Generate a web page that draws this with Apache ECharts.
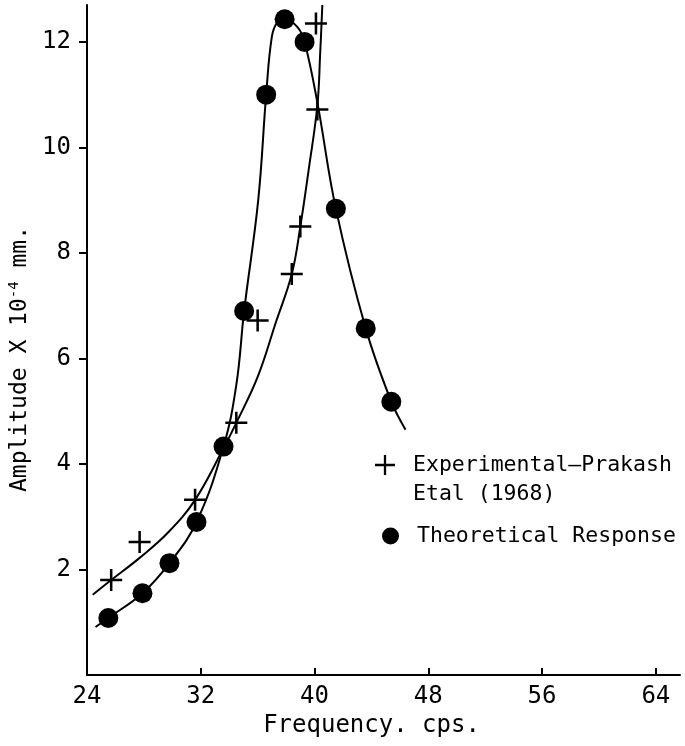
<!DOCTYPE html>
<html>
<head>
<meta charset="utf-8">
<script src="https://cdn.jsdelivr.net/npm/echarts@6/dist/echarts.min.js"></script>
<style>
  html, body { margin: 0; padding: 0; background: #fff; }
  #chart { width: 685px; height: 746px; }
</style>
</head>
<body>
<div id="chart"></div>
<script>
// measured points, + markers (Prakash et al 1968)
var expX = [25.7, 27.7, 31.6, 34.5, 36.0, 38.4, 39.0, 40.2, 40.1];
var expY = [1.80, 2.52, 3.32, 4.78, 6.72, 7.60, 8.50, 10.72, 12.35];
// theoretical response, filled dots
var theoX = [25.5, 27.9, 29.8, 31.7, 33.6, 35.05, 36.6, 37.9, 39.3, 41.5, 43.6, 45.4];
var theoY = [1.08, 1.55, 2.12, 2.90, 4.33, 6.90, 11.0, 12.43, 12.0, 8.84, 6.57, 5.18];
// hand drawn curves
var expFitX = [24.4, 25.7, 27.7, 29.7, 31.6, 33.6, 34.5, 36.0, 37.3, 38.4, 39.0, 39.6, 40.2, 40.4, 40.55];
var expFitY = [1.52, 1.80, 2.22, 2.70, 3.32, 4.30, 4.78, 5.65, 6.70, 7.60, 8.50, 9.60, 10.8, 11.8, 12.7];
var theoFitX = [24.6, 25.5, 27.9, 29.8, 31.7, 33.6, 34.5, 35.05, 36.04, 36.6, 37.0, 37.4, 37.9, 38.8, 39.3, 40.2, 41.5, 43.6, 45.4, 46.4];
var theoFitY = [0.91, 1.08, 1.55, 2.12, 2.90, 4.33, 5.5, 6.90, 9.0, 11.0, 12.1, 12.38, 12.43, 12.28, 12.0, 10.85, 8.84, 6.57, 5.18, 4.65];
// tick labels
var xTicks = [24, 32, 40, 48, 56, 64];
var yTicks = [2, 4, 6, 8, 10, 12];

function pairs(xs, ys) {
    var arr = [];
    for (var i = 0; i < xs.length; i++) {
        arr.push([xs[i], ys[i]]);
    }
    return arr;
}

var FONT = 'DejaVu Sans Mono';
var plusPath = 'path://M0,8.85H8.85V0H11.15V8.85H20V11.15H11.15V20H8.85V11.15H0Z';
// same plus with an invisible speck below so the legend icon sits on the first text line
var plusLegend = 'path://M0,8.85H8.85V0H11.15V8.85H20V11.15H11.15V20H8.85V11.15H0Z M10,50L10.01,50L10,50.01Z';

var myChart = echarts.init(document.getElementById('chart'), null, { renderer: 'canvas' });

var option = {
    animation: false,
    backgroundColor: '#fff',
    grid: { left: 87, right: 5, top: 5, bottom: 71, outerBoundsMode: 'none' },
    xAxis: {
        type: 'value',
        min: 24,
        max: 65.7,
        interval: 8,
        name: 'Frequency. cps.',
        nameLocation: 'middle',
        nameGap: 39,
        nameTextStyle: { fontFamily: FONT, fontSize: 24, color: '#000', padding: [0, 24, 0, 0] },
        axisLine: { lineStyle: { color: '#000', width: 2 } },
        axisTick: { inside: true, length: 7, lineStyle: { color: '#000', width: 2 }, customValues: xTicks },
        axisLabel: { fontFamily: FONT, fontSize: 24, color: '#000', margin: 10, customValues: xTicks },
        splitLine: { show: false }
    },
    yAxis: {
        type: 'value',
        min: 0,
        max: 12.7,
        interval: 2,
        name: 'Amplitude X 10{sup|-4} mm.',
        nameLocation: 'middle',
        nameGap: 52,
        nameTextStyle: {
            fontFamily: FONT, fontSize: 23, color: '#000', padding: [0, 38, 0, 0],
            rich: { sup: { fontFamily: FONT, fontSize: 14, color: '#000', verticalAlign: 'top', padding: [0, 0, 10, 0] } }
        },
        axisLine: { lineStyle: { color: '#000', width: 2 } },
        axisTick: { length: 8, lineStyle: { color: '#000', width: 2 }, customValues: yTicks },
        axisLabel: { fontFamily: FONT, fontSize: 24, color: '#000', margin: 16, customValues: yTicks },
        splitLine: { show: false }
    },
    legend: [{
        data: [{ name: 'Experimental\u2013Prakash Etal (1968)', icon: plusLegend }],
        orient: 'vertical',
        left: 370,
        top: 446,
        itemWidth: 20,
        itemHeight: 50,
        selectedMode: false,
        formatter: function() { return 'Experimental\u2013Prakash\nEtal (1968)'; },
        textStyle: { fontFamily: FONT, fontSize: 21.5, color: '#000', lineHeight: 29, padding: [0, 0, 0, 13] }
    }, {
        data: [{ name: 'Theoretical Response', icon: 'circle' }],
        orient: 'vertical',
        left: 377,
        top: 519,
        itemWidth: 17,
        itemHeight: 17,
        selectedMode: false,
        textStyle: { fontFamily: FONT, fontSize: 21.5, color: '#000', lineHeight: 24, padding: [0, 0, 0, 13] }
    }],
    series: [{
        name: 'exp-curve',
        type: 'line',
        data: pairs(expFitX, expFitY),
        smooth: 0.4,
        symbol: 'none',
        lineStyle: { color: '#000', width: 2 },
        z: 2
    }, {
        name: 'theo-curve',
        type: 'line',
        data: pairs(theoFitX, theoFitY),
        smooth: 0.4,
        symbol: 'none',
        lineStyle: { color: '#000', width: 2 },
        z: 2
    }, {
        name: 'Experimental\u2013Prakash Etal (1968)',
        type: 'scatter',
        data: pairs(expX, expY),
        symbol: plusPath,
        symbolSize: 22,
        itemStyle: { color: '#000', opacity: 1 },
        z: 3
    }, {
        name: 'Theoretical Response',
        type: 'scatter',
        data: pairs(theoX, theoY),
        symbol: 'circle',
        symbolSize: 20,
        itemStyle: { color: '#000', opacity: 1 },
        z: 3
    }]
};

myChart.setOption(option);
</script>
</body>
</html>
